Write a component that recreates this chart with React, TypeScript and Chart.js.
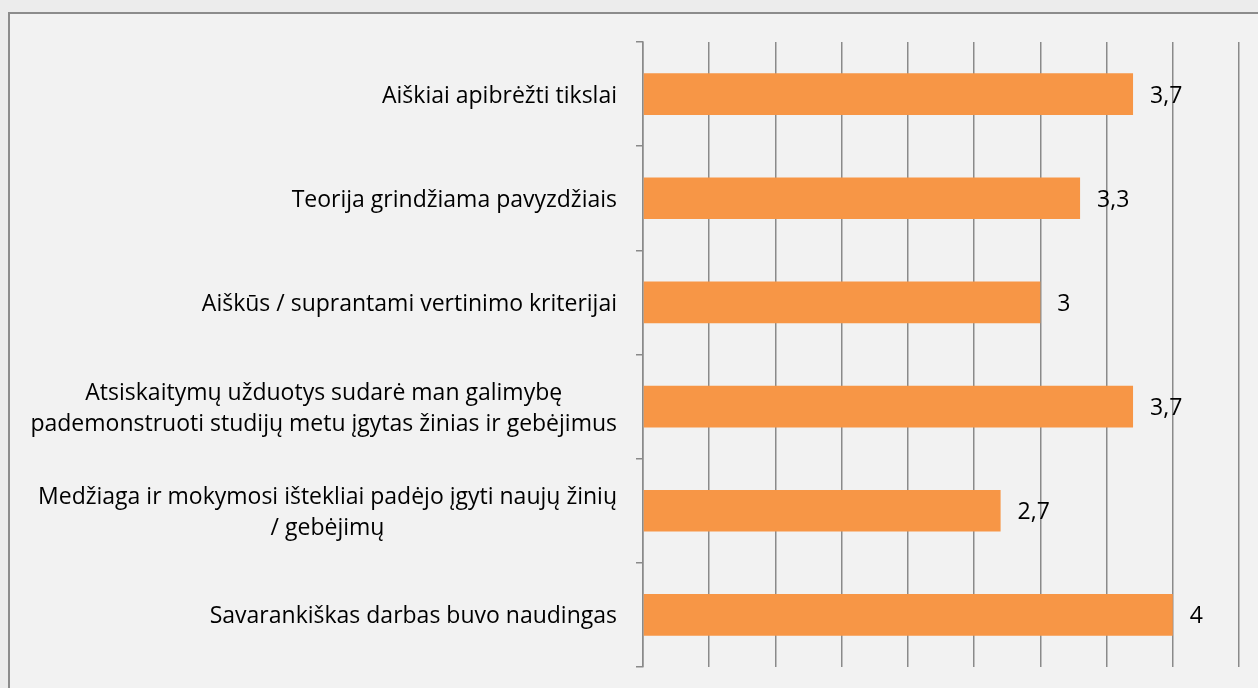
import React, { useEffect, useRef } from "react";
import { Chart, registerables } from "chart.js";
Chart.register(...registerables);

const categories: string[][] = [
  ["Aiškiai apibrėžti tikslai"],
  ["Teorija grindžiama pavyzdžiais"],
  ["Aiškūs / suprantami vertinimo kriterijai"],
  ["Atsiskaitymų užduotys sudarė man galimybę", "pademonstruoti studijų metu įgytas žinias ir gebėjimus"],
  ["Medžiaga ir mokymosi ištekliai padėjo įgyti naujų žinių", "/ gebėjimų"],
  ["Savarankiškas darbas buvo naudingas"],
];
const values = [3.7, 3.3, 3, 3.7, 2.7, 4];
const valueLabels = ["3,7", "3,3", "3", "3,7", "2,7", "4"];
const axisMin = 0;
const axisMax = 4.5;
const axisStep = 0.5;

const FONT = "23px 'Open Sans'";
const LINE_H = 31;
const GRID = "#8a8a8a";

const textPlugin = {
  id: "customText",
  afterDatasetsDraw(chart: any) {
    const ctx = chart.ctx;
    const yScale = chart.scales.y;
    ctx.save();
    ctx.font = FONT;
    ctx.fillStyle = "#000";
    ctx.textBaseline = "middle";
    categories.forEach((lines, i) => {
      const cy = yScale.getPixelForValue(i);
      const maxW = Math.max(...lines.map((l) => ctx.measureText(l).width));
      const cx = chart.chartArea.left - 26 - maxW / 2;
      ctx.textAlign = "center";
      lines.forEach((l, j) => {
        ctx.fillText(l, cx, cy + (j - (lines.length - 1) / 2) * LINE_H + 2);
      });
    });
    const meta = chart.getDatasetMeta(0);
    meta.data.forEach((bar: any, i: number) => {
      ctx.textAlign = "left";
      ctx.fillText(valueLabels[i], bar.x + 17, bar.y + 2);
    });
    ctx.restore();
  },
};

export default function App() {
  const ref = useRef<HTMLCanvasElement>(null);
  useEffect(() => {
    if (!ref.current) return;
    const chart = new Chart(ref.current, {
      type: "bar",
      data: {
        labels: categories.map((c) => c.join(" ")),
        datasets: [
          {
            data: values,
            backgroundColor: "#F79646",
            barPercentage: 0.4,
            categoryPercentage: 1,
          },
        ],
      },
      options: {
        indexAxis: "y",
        animation: false,
        responsive: false,
        layout: { padding: { top: 42, bottom: 21, left: 0, right: 19 } },
        plugins: { legend: { display: false }, tooltip: { enabled: false } },
        scales: {
          x: {
            min: axisMin,
            max: axisMax,
            ticks: { display: false, stepSize: axisStep },
            grid: { color: GRID, lineWidth: 1.5, drawTicks: false },
            border: { display: false },
            afterFit: (s: any) => {
              s.height = 0;
            },
          },
          y: {
            ticks: { display: false },
            grid: {
              drawOnChartArea: false,
              drawTicks: true,
              tickLength: 7,
              color: GRID,
              lineWidth: 1.5,
              offset: true,
            },
            border: { display: true, color: GRID, width: 1.5 },
            afterFit: (s: any) => {
              s.width = 643;
            },
          },
        },
      },
      plugins: [textPlugin],
    });
    return () => chart.destroy();
  }, []);
  return (
    <div style={{ position: "fixed", left: 0, top: 0, width: 1258, height: 688, background: "#ececec", overflow: "hidden" }}>
      <div
        style={{
          position: "absolute",
          left: 8,
          top: 12,
          width: 1300,
          height: 700,
          background: "#f2f2f2",
          borderLeft: "2px solid #8c8c8c",
          borderTop: "2px solid #8c8c8c",
        }}
      />
      <canvas ref={ref} width={1258} height={688} style={{ position: "absolute", left: 0, top: 0 }} />
    </div>
  );
}
